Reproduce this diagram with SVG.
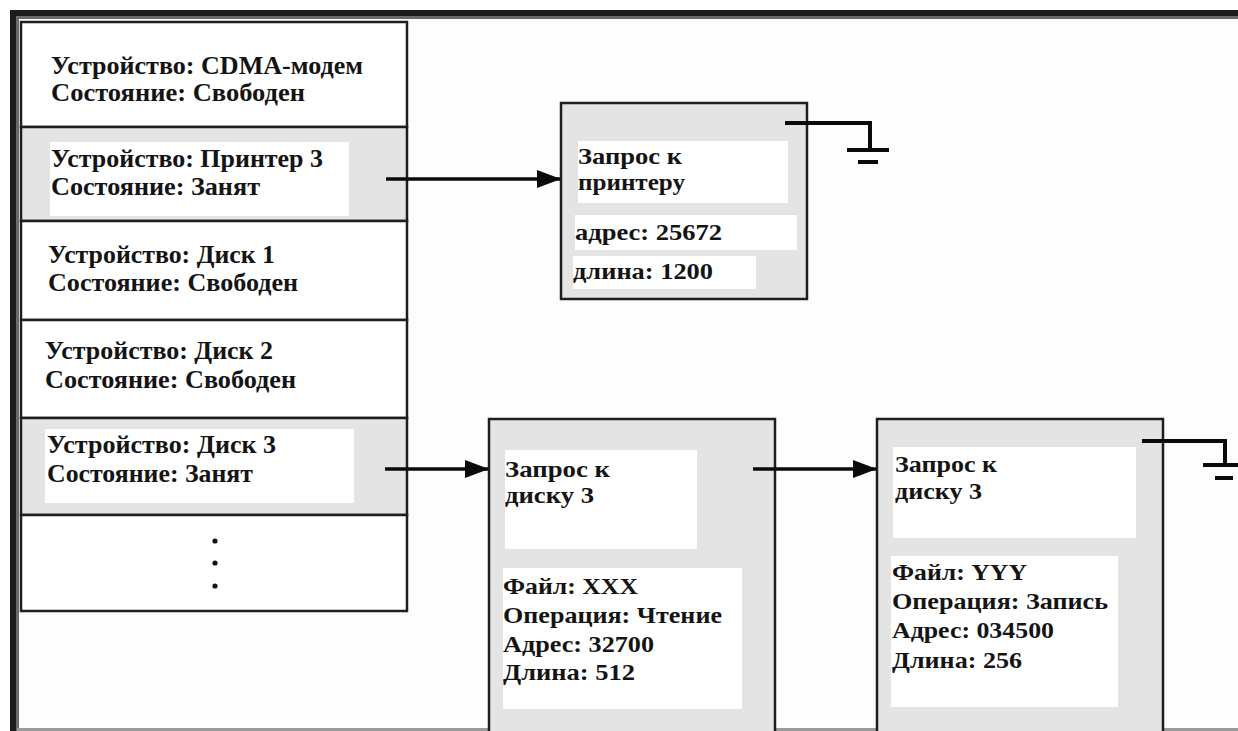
<svg xmlns="http://www.w3.org/2000/svg" width="1238" height="731" viewBox="0 0 1238 731">
  <defs>
    <style>
      .t { font-family: "Liberation Serif", "Times New Roman", serif; font-weight: bold; font-size: 25px; fill: #141414; }
      .s { font-size: 24px; }
      .cell { fill: #ffffff; stroke: #1e1e1e; stroke-width: 2.5; }
      .busy { fill: #e4e4e4; stroke: #1e1e1e; stroke-width: 2.5; }
      .box { fill: #e4e4e4; stroke: #1e1e1e; stroke-width: 2.5; }
      .pad { fill: #ffffff; }
      .wire { fill: none; stroke: #0a0a0a; stroke-width: 3.5; }
      .gnd { fill: none; stroke: #0a0a0a; stroke-width: 4; }
    </style>
    <marker id="head" markerWidth="24" markerHeight="18" refX="23" refY="9" orient="auto" markerUnits="userSpaceOnUse">
      <path d="M0,0 L24,9 L0,18 Z" fill="#0a0a0a"/>
    </marker>
  </defs>

  <!-- page and window frame -->
  <rect x="0" y="0" width="1238" height="731" fill="#fdfdfd"/>
  <rect x="0" y="0" width="1238" height="10" fill="#ffffff"/>
  <rect x="0" y="0" width="10" height="731" fill="#ffffff"/>
  <rect x="10" y="10" width="1228" height="6" fill="#1c1c1c"/>
  <rect x="10" y="16" width="1228" height="3" fill="#6a6a6a"/>
  <rect x="10" y="10" width="6" height="721" fill="#1c1c1c"/>
  <rect x="16" y="16" width="3" height="715" fill="#6a6a6a"/>
  <rect x="17" y="728" width="1221" height="3" fill="#9a9a9a"/>

  <!-- device table -->
  <g id="devices">
    <g id="dev-cdma">
      <rect class="cell" x="21" y="22" width="386" height="105"/>
      <text class="t" x="51" y="74" textLength="312" lengthAdjust="spacingAndGlyphs">Устройство: CDMA-модем</text>
      <text class="t" x="51" y="101" textLength="254" lengthAdjust="spacingAndGlyphs">Состояние: Свободен</text>
    </g>
    <g id="dev-printer3">
      <rect class="busy" x="21" y="127" width="386" height="94"/>
      <rect class="pad" x="50" y="142" width="299" height="74"/>
      <text class="t" x="51" y="167" textLength="272" lengthAdjust="spacingAndGlyphs">Устройство: Принтер 3</text>
      <text class="t" x="51" y="195" textLength="209" lengthAdjust="spacingAndGlyphs">Состояние: Занят</text>
    </g>
    <g id="dev-disk1">
      <rect class="cell" x="21" y="221" width="386" height="99"/>
      <text class="t" x="48" y="263" textLength="227" lengthAdjust="spacingAndGlyphs">Устройство: Диск 1</text>
      <text class="t" x="48" y="291" textLength="250" lengthAdjust="spacingAndGlyphs">Состояние: Свободен</text>
    </g>
    <g id="dev-disk2">
      <rect class="cell" x="21" y="320" width="386" height="98"/>
      <text class="t" x="45" y="359" textLength="228" lengthAdjust="spacingAndGlyphs">Устройство: Диск 2</text>
      <text class="t" x="45" y="388" textLength="251" lengthAdjust="spacingAndGlyphs">Состояние: Свободен</text>
    </g>
    <g id="dev-disk3">
      <rect class="busy" x="21" y="418" width="386" height="97"/>
      <rect class="pad" x="45" y="429" width="309" height="74"/>
      <text class="t" x="47" y="453" textLength="229" lengthAdjust="spacingAndGlyphs">Устройство: Диск 3</text>
      <text class="t" x="47" y="482" textLength="206" lengthAdjust="spacingAndGlyphs">Состояние: Занят</text>
    </g>
    <g id="dev-more">
      <rect class="cell" x="21" y="515" width="386" height="96"/>
      <circle cx="215" cy="541" r="2.6" fill="#141414"/>
      <circle cx="215" cy="563" r="2.6" fill="#141414"/>
      <circle cx="215" cy="586" r="2.6" fill="#141414"/>
    </g>
  </g>

  <!-- request blocks -->
  <g id="req-printer">
    <rect class="box" x="561" y="103" width="246" height="196"/>
    <rect class="pad" x="578" y="141" width="210" height="62"/>
    <rect class="pad" x="575" y="215" width="222" height="35"/>
    <rect class="pad" x="573" y="256" width="183" height="33"/>
    <text class="t s" x="578" y="164" textLength="104" lengthAdjust="spacingAndGlyphs">Запрос к</text>
    <text class="t s" x="578" y="190" textLength="107" lengthAdjust="spacingAndGlyphs">принтеру</text>
    <text class="t s" x="575" y="240" textLength="147" lengthAdjust="spacingAndGlyphs">адрес: 25672</text>
    <text class="t s" x="573" y="279" textLength="140" lengthAdjust="spacingAndGlyphs">длина: 1200</text>
  </g>

  <g id="req-disk3-a">
    <rect class="box" x="489" y="419" width="286" height="330"/>
    <rect class="pad" x="505" y="450" width="192" height="99"/>
    <rect class="pad" x="503" y="568" width="239" height="141"/>
    <text class="t s" x="505" y="477" textLength="105" lengthAdjust="spacingAndGlyphs">Запрос к</text>
    <text class="t s" x="505" y="503" textLength="89" lengthAdjust="spacingAndGlyphs">диску 3</text>
    <text class="t s" x="503" y="594" textLength="135" lengthAdjust="spacingAndGlyphs">Файл: XXX</text>
    <text class="t s" x="503" y="623" textLength="219" lengthAdjust="spacingAndGlyphs">Операция: Чтение</text>
    <text class="t s" x="503" y="652" textLength="151" lengthAdjust="spacingAndGlyphs">Адрес: 32700</text>
    <text class="t s" x="503" y="680" textLength="132" lengthAdjust="spacingAndGlyphs">Длина: 512</text>
  </g>

  <g id="req-disk3-b">
    <rect class="box" x="877" y="419" width="286" height="330"/>
    <rect class="pad" x="893" y="447" width="243" height="91"/>
    <rect class="pad" x="891" y="556" width="227" height="151"/>
    <text class="t s" x="895" y="472" textLength="102" lengthAdjust="spacingAndGlyphs">Запрос к</text>
    <text class="t s" x="895" y="499" textLength="87" lengthAdjust="spacingAndGlyphs">диску 3</text>
    <text class="t s" x="892" y="580" textLength="135" lengthAdjust="spacingAndGlyphs">Файл: YYY</text>
    <text class="t s" x="892" y="609" textLength="216" lengthAdjust="spacingAndGlyphs">Операция: Запись</text>
    <text class="t s" x="892" y="638" textLength="162" lengthAdjust="spacingAndGlyphs">Адрес: 034500</text>
    <text class="t s" x="892" y="668" textLength="130" lengthAdjust="spacingAndGlyphs">Длина: 256</text>
  </g>

  <!-- links between queue entries, and end-of-list ground marks -->
  <g id="connectors">
    <line class="wire" x1="386" y1="179" x2="560" y2="179" marker-end="url(#head)"/>
    <line class="wire" x1="385" y1="469" x2="488" y2="469" marker-end="url(#head)"/>
    <line class="wire" x1="753" y1="469" x2="876" y2="469" marker-end="url(#head)"/>

    <polyline class="gnd" points="785,123 870,123 870,150"/>
    <line class="gnd" x1="847" y1="150" x2="889" y2="150"/>
    <line class="gnd" x1="858" y1="162" x2="878" y2="162"/>

    <polyline class="gnd" points="1142,441 1225,441 1225,465"/>
    <line class="gnd" x1="1203" y1="465" x2="1240" y2="465"/>
    <line class="gnd" x1="1215" y1="478" x2="1233" y2="478"/>
  </g>
</svg>
